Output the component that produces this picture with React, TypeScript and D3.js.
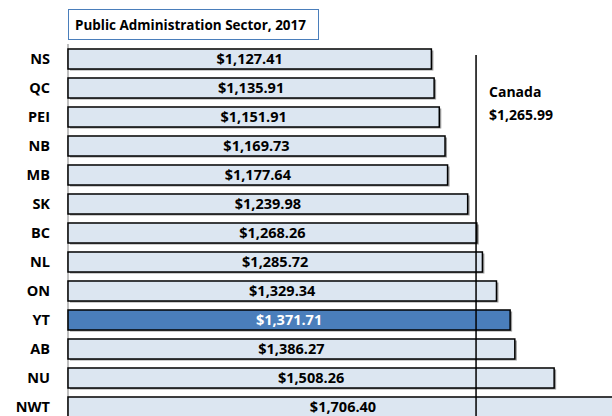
import React from "react"
import * as d3 from "d3"

const provinces = ["NS", "QC", "PEI", "NB", "MB", "SK", "BC", "NL", "ON", "YT", "AB", "NU", "NWT"]
const earnings = [1127.41, 1135.91, 1151.91, 1169.73, 1177.64, 1239.98, 1268.26, 1285.72, 1329.34, 1371.71, 1386.27, 1508.26, 1706.4]
const highlight = ["YT"]
const canadaLabel = "Canada"
const canadaValue = 1265.99
const chartTitle = "Public Administration Sector, 2017"

const W = 612
const H = 416
const left = 68
const top = 44.5
const labelFont = "'Open Sans', Lato, sans-serif"

const fmt = (v: number) => "$" + d3.format(",.2f")(v)

export default function App() {
  const x = d3.scaleLinear().domain([0, 1706.4]).range([left, left + 550])
  const y = d3
    .scaleBand()
    .domain(provinces)
    .range([top, top + provinces.length * 29])
    .paddingInner(0.31)
    .paddingOuter(0.155)

  return (
    <svg width={W} height={H} style={{ position: "absolute", left: 0, top: 0 }} fontFamily={labelFont}>
      <rect width={W} height={H} fill="#fff" />
      {/* title box */}
      <rect x={68.5} y={9.5} width={250} height={30} fill="#fff" stroke="#4a7ebb" strokeWidth={1} />
      <text
        x={75}
        y={30}
        fontSize={15}
        fontWeight="bold"
        fill="#000"
        textLength={231}
        lengthAdjust="spacingAndGlyphs"
      >
        {chartTitle}
      </text>
      {/* category axis */}
      <line x1={left} x2={left} y1={44} y2={H} stroke="#bfbfbf" strokeWidth={2} />
      {provinces.map((p, i) => {
        const yy = y(p)!
        const bw = y.bandwidth()
        const hi = highlight.includes(p)
        return (
          <g key={p}>
            <rect x={left + 2} y={yy + 1.5} width={x(earnings[i]) - left} height={bw} fill="#9a9a9a" />
            <rect
              x={left}
              y={yy}
              width={x(earnings[i]) - left}
              height={bw}
              fill={hi ? "#4a7ebb" : "#dce6f1"}
              stroke="#000"
              strokeWidth={1.5}
            />
            <text
              x={(left + x(earnings[i])) / 2}
              y={yy + bw / 2}
              dy="0.36em"
              textAnchor="middle"
              fontSize={14.5}
              fontWeight="bold"
              fill={hi ? "#fff" : "#000"}
            >
              {fmt(earnings[i])}
            </text>
            <text x={50} y={yy + bw / 2} dy="0.36em" textAnchor="end" fontSize={14.5} fontWeight="bold" fill="#000">
              {p}
            </text>
          </g>
        )
      })}
      {/* Canada average */}
      <line x1={x(canadaValue)} x2={x(canadaValue)} y1={55} y2={H} stroke="#000" strokeWidth={1.5} />
      <text x={489} y={97} fontSize={14} fontWeight="bold" fill="#000">
        {canadaLabel}
      </text>
      <text x={489} y={120} fontSize={14} fontWeight="bold" fill="#000">
        {fmt(canadaValue)}
      </text>
    </svg>
  )
}
